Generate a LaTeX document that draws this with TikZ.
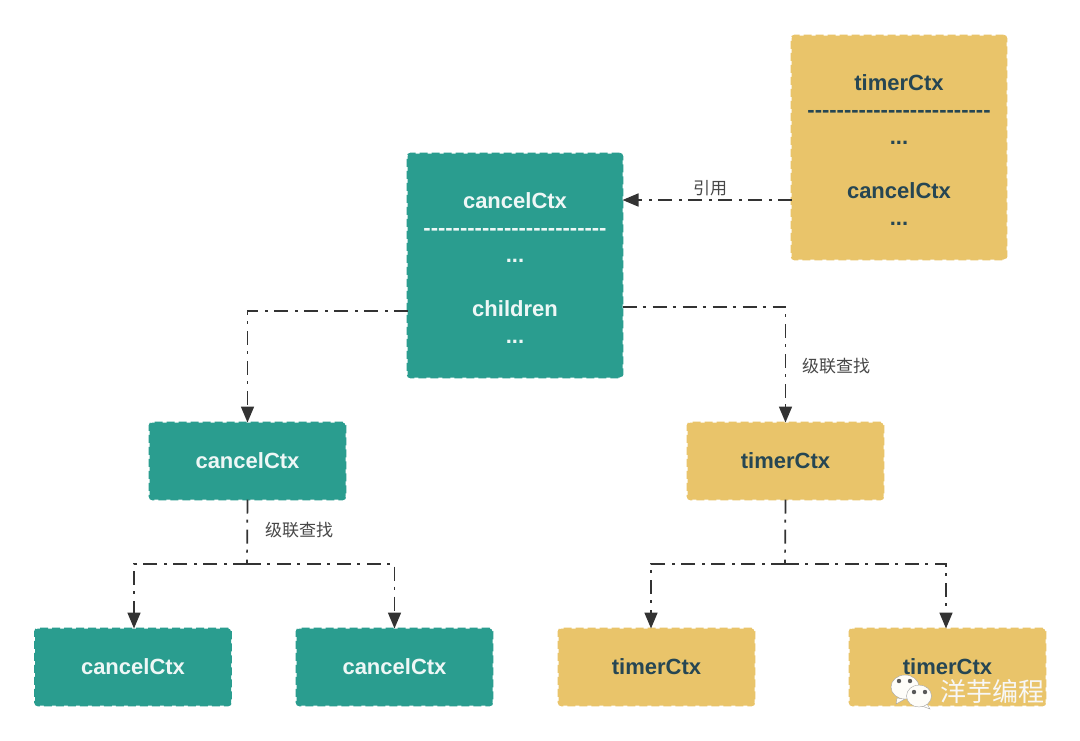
\documentclass[tikz,border=0pt]{standalone}
\usepackage{fontspec}
\newfontfamily\boxfont{Liberation Sans}
\newfontfamily\cjkfont{Noto Sans CJK SC}
\usetikzlibrary{arrows.meta}
\definecolor{tealbox}{HTML}{2A9D8F}
\definecolor{yellowbox}{HTML}{E9C46A}
\definecolor{inktext}{HTML}{264653}
\definecolor{linkgray}{HTML}{333333}
\newcommand{\toppad}{\rule{0pt}{20pt}}

\begin{document}
\begin{tikzpicture}[
x = 1pt,
y = -1pt,
every node/.style = {font=\boxfont\bfseries\fontsize{22}{27}\selectfont},
box/.style        = {rectangle, rounded corners=3pt, inner sep=0pt, outer sep=0pt, align=center,
                     line width=1.6pt, dash pattern=on 8pt off 4pt},
tealnode/.style   = {box, draw=tealbox, fill=tealbox, text=white!92!tealbox},
goldnode/.style   = {box, draw=yellowbox, fill=yellowbox, text=inktext},
small/.style      = {minimum width=196pt, minimum height=77pt},
large/.style      = {minimum width=215pt, minimum height=224pt},
link/.style       = {draw=linkgray, line width=1.7pt, dash pattern=on 14pt off 6pt on 3pt off 7pt,
                     -{Triangle[length=16pt,width=13pt]}},
stem/.style       = {draw=linkgray, line width=1.7pt, dash pattern=on 14pt off 6pt on 3pt off 7pt},
linklabel/.style  = {font=\cjkfont\fontsize{17}{20}\selectfont, text=linkgray!90!white}
]
\useasboundingbox (0,0) rectangle (1080,740);

\node [goldnode, large] (timerTop) at (899,147.5)
  {\toppad timerCtx\\-------------------------\\...\\\mbox{}\\cancelCtx\\...};
\node [tealnode, large] (cancelMain) at (515,265.5)
  {\toppad cancelCtx\\-------------------------\\...\\\mbox{}\\children\\...};

\node [tealnode, small] (cancelLeft)  at (247.5,461) {cancelCtx};
\node [goldnode, small] (timerRight)  at (785.5,461) {timerCtx};
\node [tealnode, small] (cancelLeafA) at (133,667)   {cancelCtx};
\node [tealnode, small] (cancelLeafB) at (394.5,667) {cancelCtx};
\node [goldnode, small] (timerLeafA)  at (656.5,667) {timerCtx};
\node [goldnode, small] (timerLeafB)  at (947.5,667) {timerCtx};

\coordinate (forkLeft)  at (247,564);
\coordinate (forkRight) at (785,564);

\draw [link] ([yshift=-52.5pt]timerTop.west) -- ([yshift=65.5pt]cancelMain.east)
  node [linklabel, midway, above=0pt, xshift=3pt] (refLabel) {引用};
\draw [link] ([yshift=-45.5pt]cancelMain.west) -| (cancelLeft.north);
\draw [link] ([yshift=-41.5pt]cancelMain.east) -| (timerRight.north);

\draw [stem] (cancelLeft.south) -- (forkLeft);
\draw [link] (forkLeft) -| ([xshift=1pt]cancelLeafA.north);
\draw [link] (forkLeft) -| (cancelLeafB.north);
\draw [stem] (timerRight.south) -- (forkRight);
\draw [link] (forkRight) -| ([xshift=-5.5pt]timerLeafA.north);
\draw [link] (forkRight) -| ([xshift=-1.5pt]timerLeafB.north);

\node [linklabel] (lookupRight) at (836,366) {级联查找};
\node [linklabel] (lookupLeft)  at (299,530) {级联查找};

% watermark
\fill [white!96!yellowbox, draw=black!35] (897,698) -- (896,704) -- (905,699) -- cycle;
\fill [white!96!yellowbox, draw=black!35] (905,687) ellipse [x radius=14, y radius=12];
\fill [white!96!yellowbox, draw=black!35] (927,704) -- (930,709) -- (922,706) -- cycle;
\fill [white!96!yellowbox, draw=black!35] (919,696) ellipse [x radius=12.5, y radius=11];
\foreach \xdot/\ydot in {899/681, 910/681, 914/692, 925/692}
  \fill [black!65] (\xdot,\ydot) circle [radius=2.2];
\node [font=\cjkfont\fontsize{26}{30}\selectfont, text=white!97!black] (markText) at (992,692) {洋芋编程};
\end{tikzpicture}
\end{document}
